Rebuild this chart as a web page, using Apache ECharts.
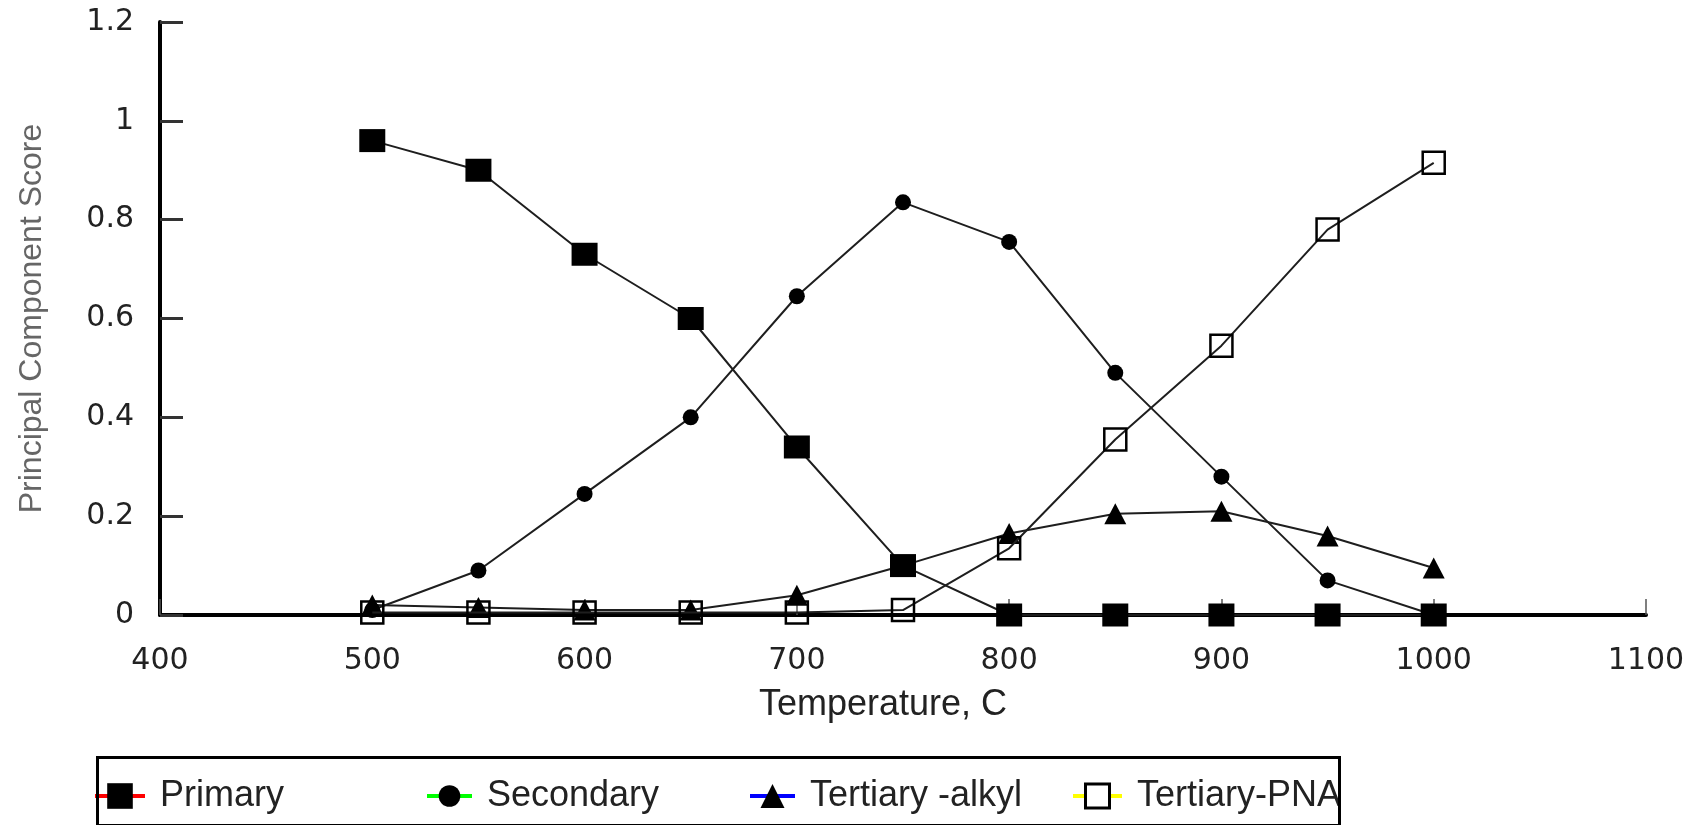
<!DOCTYPE html>
<html>
<head>
<meta charset="utf-8">
<script src="https://cdn.jsdelivr.net/npm/echarts@6/dist/echarts.min.js"></script>
<style>
html,body{margin:0;padding:0;background:#fff;}
#chart{width:1699px;height:825px;}
</style>
</head>
<body>
<div id="chart"></div>
<script>
const temperatures = [500, 550, 600, 650, 700, 750, 800, 850, 900, 950, 1000];
const primary      = [0.96, 0.90, 0.73, 0.60, 0.34, 0.10, 0.00, 0.00, 0.00, 0.00, 0.00];
const secondary    = [0.01, 0.09, 0.245, 0.40, 0.645, 0.835, 0.755, 0.49, 0.28, 0.07, 0.00];
const tertAlkyl    = [0.02, 0.015, 0.01, 0.01, 0.04, 0.10, 0.165, 0.205, 0.21, 0.16, 0.095];
const tertPNA      = [0.005, 0.005, 0.005, 0.005, 0.005, 0.01, 0.135, 0.355, 0.545, 0.78, 0.915];
const seriesNames  = ['Primary', 'Secondary', 'Tertiary -alkyl', 'Tertiary-PNA'];
const legendLineColors = ['#ff0000', '#00ff00', '#0000ff', '#ffff00'];

function pairs(vals){ return temperatures.map((t,i)=>[t, vals[i]]); }

const chart = echarts.init(document.getElementById('chart'), null, {renderer:'canvas'});
const lineStyle = {color:'#1e1e1e', width:2};
const tickFont = {fontFamily:'DejaVu Sans', fontSize:30, color:'#222'};

const legendBase = (idx, left, itemHeight, itemWidth, extraItem) => ({
  data:[seriesNames[idx]],
  left: left,
  top: 778,
  padding: 0,
  itemWidth: itemWidth,
  itemHeight: itemHeight,
  selectedMode: false,
  lineStyle: {color: legendLineColors[idx], width: 4},
  itemStyle: Object.assign({color:'#000', borderWidth:0}, extraItem || {}),
  textStyle: {fontFamily:'Liberation Sans', fontSize:36, color:'#222', padding:[0,0,0,10]}
});

chart.setOption({
  animation:false,
  backgroundColor:'#fff',
  grid:{left:160, right:53, top:22, bottom:210},
  xAxis:{
    type:'value', min:400, max:1100, interval:100,
    name:'Temperature, C', nameLocation:'middle', nameGap:72,
    nameTextStyle:{fontFamily:'Liberation Sans', fontSize:36, color:'#222', padding:[0,40,0,0]},
    axisLine:{show:true, lineStyle:{color:'#000', width:4}},
    axisTick:{show:true, inside:true, length:16, lineStyle:{color:'#555', width:1.5}},
    axisLabel:Object.assign({margin:31, formatter:(v)=>String(v)}, tickFont),
    splitLine:{show:false}
  },
  yAxis:{
    type:'value', min:0, max:1.2, interval:0.2,
    name:'Principal Component Score', nameLocation:'middle', nameGap:112, nameRotate:90,
    nameTextStyle:{fontFamily:'Liberation Sans', fontSize:32, color:'#666'},
    axisLine:{show:true, lineStyle:{color:'#000', width:4}},
    axisTick:{show:true, inside:true, length:23, lineStyle:{color:'#333', width:3}},
    axisLabel:Object.assign({margin:26}, tickFont),
    splitLine:{show:false}
  },
  legend:[
    legendBase(0, 93, 32, 50),
    legendBase(1, 425, 27, 45),
    legendBase(2, 748, 30, 45),
    legendBase(3, 1071, 30, 49, {color:'#fff', borderColor:'#000', borderWidth:3})
  ],
  graphic:[{
    type:'rect', left:95, top:755, z:100,
    shape:{x:0, y:0, width:1242, height:68},
    style:{fill:'none', stroke:'#000', lineWidth:3}
  }],
  series:[
    {name:seriesNames[0], type:'line', data:pairs(primary), symbol:'rect', symbolSize:[26,23],
     itemStyle:{color:'#000'}, lineStyle:lineStyle, z:3},
    {name:seriesNames[1], type:'line', data:pairs(secondary), symbol:'circle', symbolSize:16,
     itemStyle:{color:'#000'}, lineStyle:lineStyle, z:3},
    {name:seriesNames[2], type:'line', data:pairs(tertAlkyl), symbol:'triangle', symbolSize:[22,21],
     itemStyle:{color:'#000'}, lineStyle:lineStyle, z:3},
    {name:seriesNames[3], type:'line', data:pairs(tertPNA), symbol:'rect', symbolSize:22,
     itemStyle:{color:'rgba(255,255,255,0)', borderColor:'#000', borderWidth:2.5}, lineStyle:lineStyle, z:4}
  ]
});
</script>
</body>
</html>
